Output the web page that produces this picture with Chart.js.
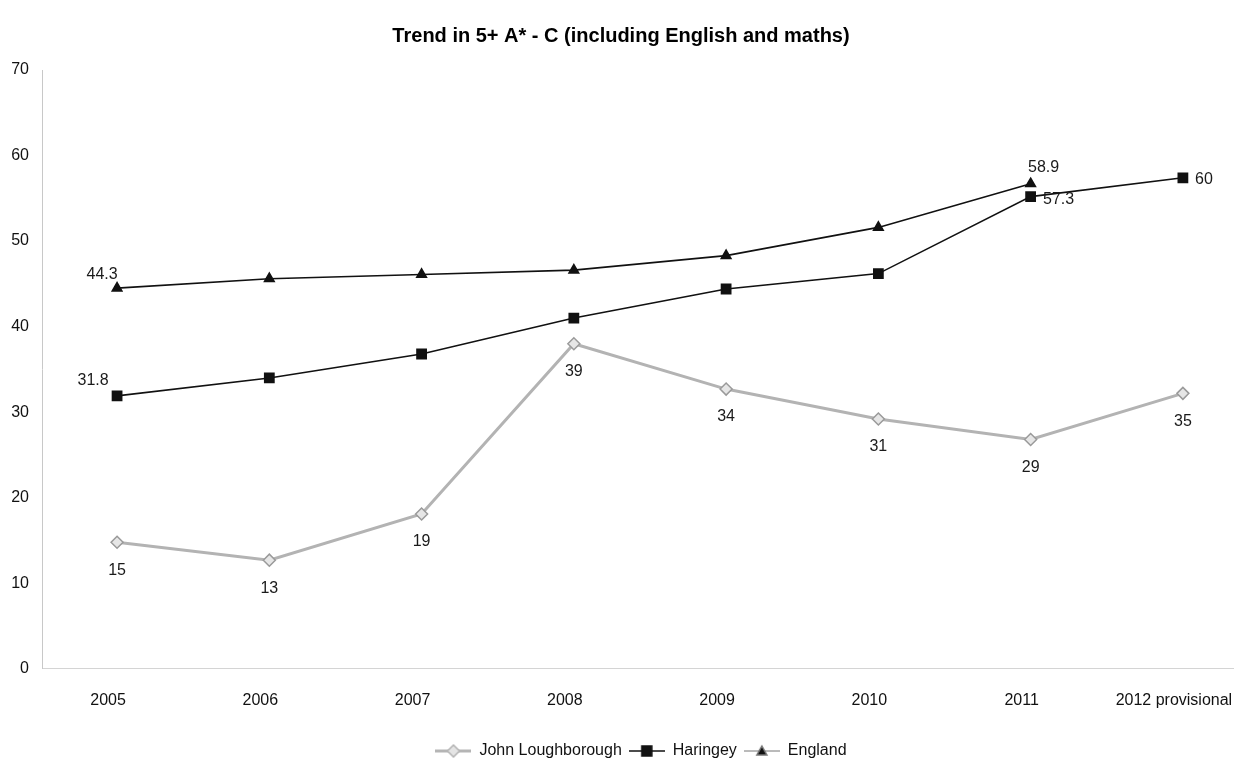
<!DOCTYPE html>
<html lang="en">
<head>
    <meta charset="utf-8" />
    <title>Trend in 5+ A* - C</title>
    <script src="https://cdn.jsdelivr.net/npm/chart.js@4.4.1/dist/chart.umd.min.js"></script>
    <style>
        html, body { margin: 0; padding: 0; background: #fff; }
        #wrap { width: 1242px; height: 765px; position: relative; }
    </style>
</head>
<body>
    <div id="wrap"><canvas id="trendChart"></canvas></div>
    <script>
        // categories and values
        const categories = ['2005', '2006', '2007', '2008', '2009', '2010', '2011', '2012 provisional'];
        const johnValues = [14.8, 12.7, 18.1, 38.0, 32.7, 29.2, 26.8, 32.2];
        const haringeyValues = [31.9, 34.0, 36.8, 41.0, 44.4, 46.2, 55.2, 57.4];
        const englandValues = [44.5, 45.6, 46.1, 46.6, 48.3, 51.6, 56.7, null];

        // the value labels printed next to the points
        const johnText = ['15', '13', '19', '39', '34', '31', '29', '35'];
        const haringeyText = ['31.8', null, null, null, null, null, '57.3', '60'];
        const englandText = ['44.3', null, null, null, null, null, '58.9', null];

        const yTicks = [0, 10, 20, 30, 40, 50, 60, 70];

        const FONT = '"Liberation Sans", Arial, sans-serif';

        function toPoints(values) {
            return values.map(function (v, i) { return { x: i, y: v }; });
        }

        // little line+marker swatch for the legend
        function swatch(color, width, shape, fill) {
            var c = document.createElement('canvas');
            c.width = 36; c.height = 14;
            var g = c.getContext('2d');
            g.strokeStyle = color;
            g.lineWidth = width;
            g.beginPath(); g.moveTo(0, 7); g.lineTo(36, 7); g.stroke();
            g.fillStyle = fill;
            g.lineWidth = 1.5;
            g.beginPath();
            if (shape === 'rect') {
                g.rect(13, 2, 10, 10);
            } else if (shape === 'triangle') {
                g.moveTo(18, 2); g.lineTo(23, 11); g.lineTo(13, 11); g.closePath();
            } else {
                g.moveTo(18, 1); g.lineTo(24, 7); g.lineTo(18, 13); g.lineTo(12, 7); g.closePath();
            }
            g.fill(); g.stroke();
            return c;
        }

        // where each value label sits relative to its point
        function labelOffset(ds, i) {
            if (ds === 0) return [0, 28];
            if (ds === 1) {
                if (i === 0) return [-24, -15];
                if (i === 6) return [28, 3];
                return [21, 2];
            }
            if (i === 0) return [-15, -14];
            return [13, -16];
        }

        const valueLabels = {
            id: 'valueLabels',
            afterDatasetsDraw: function (chart) {
                var ctx = chart.ctx;
                ctx.save();
                ctx.font = '16px ' + FONT;
                ctx.fillStyle = '#1a1a1a';
                ctx.textAlign = 'center';
                ctx.textBaseline = 'middle';
                chart.data.datasets.forEach(function (ds, d) {
                    var meta = chart.getDatasetMeta(d);
                    ds.valueText.forEach(function (t, i) {
                        if (!t || !meta.data[i]) return;
                        var p = meta.data[i];
                        var off = labelOffset(d, i);
                        ctx.fillText(t, p.x + off[0], p.y + off[1]);
                    });
                });
                ctx.restore();
            }
        };

        // the scanned legend sits a bit right of centre and a bit lower
        const nudgeLegend = {
            id: 'nudgeLegend',
            afterLayout: function (chart) {
                var lg = chart.legend;
                lg.left += 20; lg.right += 20;
                lg.top += 4; lg.bottom += 4;
            }
        };

        const legendImgs = [
            swatch('#b5b5b5', 3, 'rectRot', '#e4e4e4'),
            swatch('#111', 1.5, 'rect', '#111'),
            swatch('#777', 1, 'triangle', '#111')
        ];

        var ctx = document.getElementById('trendChart').getContext('2d');
        var trendChart = new Chart(ctx, {
            type: 'line',
            data: {
                datasets: [{
                    label: 'John Loughborough',
                    data: toPoints(johnValues),
                    valueText: johnText,
                    borderColor: '#b3b3b3',
                    borderWidth: 3,
                    pointStyle: 'rectRot',
                    pointRadius: 6,
                    pointBackgroundColor: '#e6e6e6',
                    pointBorderColor: '#9a9a9a',
                    pointBorderWidth: 1.5
                }, {
                    label: 'Haringey',
                    data: toPoints(haringeyValues),
                    valueText: haringeyText,
                    borderColor: '#111',
                    borderWidth: 1.6,
                    pointStyle: 'rect',
                    pointRadius: 6.5,
                    pointBackgroundColor: '#111',
                    pointBorderColor: '#111'
                }, {
                    label: 'England',
                    data: toPoints(englandValues),
                    valueText: englandText,
                    borderColor: '#111',
                    borderWidth: 1.6,
                    pointStyle: 'triangle',
                    pointRadius: 5.5,
                    pointBackgroundColor: '#111',
                    pointBorderColor: '#111'
                }]
            },
            options: {
                responsive: true,
                maintainAspectRatio: false,
                animation: false,
                layout: { padding: { left: 0, right: 0, top: 0, bottom: 0 } },
                plugins: {
                    title: {
                        display: true,
                        text: 'Trend in 5+ A* - C (including English and maths)',
                        color: '#000',
                        font: { family: FONT, size: 20, weight: 'bold' },
                        padding: { top: 24, bottom: 22 }
                    },
                    legend: {
                        position: 'bottom',
                        labels: {
                            color: '#111',
                            font: { family: FONT, size: 16 },
                            usePointStyle: true,
                            pointStyleWidth: 36,
                            padding: 7,
                            generateLabels: function (chart) {
                                return chart.data.datasets.map(function (ds, i) {
                                    return {
                                        text: ds.label,
                                        datasetIndex: i,
                                        pointStyle: legendImgs[i],
                                        fillStyle: 'transparent',
                                        strokeStyle: 'transparent',
                                        fontColor: '#111',
                                        lineWidth: 0
                                    };
                                });
                            }
                        }
                    },
                    tooltip: { enabled: false }
                },
                scales: {
                    x: {
                        type: 'linear',
                        min: -0.493,
                        max: 7.335,
                        grid: { display: false, drawTicks: false },
                        border: { display: true, color: '#d4d4d4', dash: [2, 12] },
                        afterBuildTicks: function (scale) {
                            scale.ticks = categories.map(function (c, i) { return { value: i }; });
                        },
                        afterFit: function (scale) {
                            scale.paddingLeft = 0;
                            scale.paddingRight = 0;
                        },
                        ticks: {
                            callback: function (v) { return categories[v]; },
                            color: '#111',
                            font: { family: FONT, size: 16 },
                            padding: 22,
                            labelOffset: -9,
                            maxRotation: 0,
                            autoSkip: false
                        }
                    },
                    y: {
                        min: 0,
                        max: 70,
                        afterBuildTicks: function (scale) {
                            scale.ticks = yTicks.map(function (v) { return { value: v }; });
                        },
                        afterFit: function (scale) { scale.width = 42; },
                        grid: { display: false, drawTicks: false },
                        border: { display: true, color: '#c8c8c8', dash: [2, 12] },
                        ticks: {
                            color: '#111',
                            font: { family: FONT, size: 16 },
                            padding: 13
                        }
                    }
                }
            },
            plugins: [valueLabels, nudgeLegend]
        });
    </script>
</body>
</html>
